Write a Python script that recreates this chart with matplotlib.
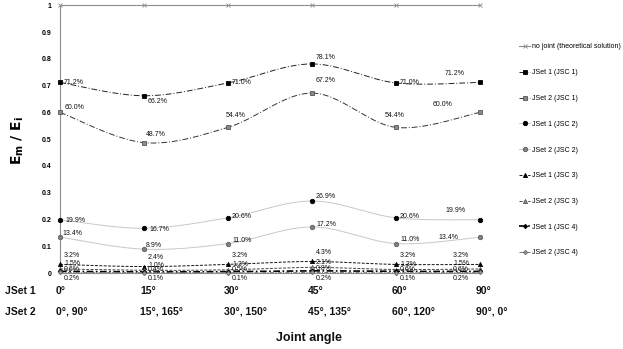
import numpy as np
import matplotlib
matplotlib.use("Agg")
import matplotlib.pyplot as plt
from matplotlib.lines import Line2D

# ---- data ----
jset1_angles = ["0°", "15°", "30°", "45°", "60°", "90°"]
jset2_angles = ["0°, 90°", "15°, 165°", "30°, 150°", "45°, 135°", "60°, 120°", "90°, 0°"]

no_joint = [1.0, 1.0, 1.0, 1.0, 1.0, 1.0]
jset1_jsc1 = [0.712, 0.662, 0.710, 0.781, 0.710, 0.712]
jset2_jsc1 = [0.600, 0.487, 0.544, 0.672, 0.544, 0.600]
jset1_jsc2 = [0.199, 0.167, 0.206, 0.269, 0.206, 0.199]
jset2_jsc2 = [0.134, 0.089, 0.110, 0.172, 0.110, 0.134]
jset1_jsc3 = [0.032, 0.024, 0.032, 0.043, 0.032, 0.032]
jset2_jsc3 = [0.015, 0.010, 0.012, 0.021, 0.013, 0.015]
jset1_jsc4 = [0.006, 0.004, 0.005, 0.008, 0.006, 0.006]
jset2_jsc4 = [0.002, 0.001, 0.001, 0.002, 0.001, 0.002]

legend_labels = ["no joint (theoretical solution)", "JSet 1 (JSC 1)", "JSet 2 (JSC 1)",
                 "JSet 1 (JSC 2)", "JSet 2 (JSC 2)", "JSet 1 (JSC 3)", "JSet 2 (JSC 3)",
                 "JSet 1 (JSC 4)", "JSet 2 (JSC 4)"]


def smooth(y, n=30):
    """Bezier smoothing through the points (spreadsheet-style smoothed line)."""
    y = np.asarray(y, float)
    x = np.arange(len(y), dtype=float)
    pts = np.column_stack([x, y])
    ext = np.vstack([pts[0], pts, pts[-1]])
    out = []
    t = np.linspace(0, 1, n)[:, None]
    for i in range(len(pts) - 1):
        p0, p1 = ext[i + 1], ext[i + 2]
        c1 = p0 + (ext[i + 2] - ext[i]) / 6.0
        c2 = p1 - (ext[i + 3] - ext[i + 1]) / 6.0
        seg = ((1 - t) ** 3) * p0 + 3 * ((1 - t) ** 2) * t * c1 + 3 * (1 - t) * t ** 2 * c2 + t ** 3 * p1
        out.append(seg if i == 0 else seg[1:])
    s = np.vstack(out)
    return s[:, 0], s[:, 1]


fig = plt.figure(figsize=(6.23, 3.49), dpi=100)
W, H = 623, 349
ax = fig.add_axes([60 / W, 1 - 273 / H, 420 / W, (273 - 5.3) / H])
ax.set_xlim(0, 5)
ax.set_ylim(0, 1)
xs = np.arange(len(jset1_angles))

lab_font = dict(family="Liberation Sans", size=5, color="#111111")

series = [
    # values, line color, linestyle, lw, marker, mfc, mec, ms, smooth
    (no_joint, "#8c8c8c", "-", 0.8, "x", "#8c8c8c", "#8c8c8c", 3, False),
    (jset1_jsc1, "#222222", (0, (6, 2, 1, 2)), 0.7, "s", "black", "black", 3.2, True),
    (jset2_jsc1, "#333333", (0, (6, 2, 1, 2)), 0.7, "s", "#8a8a8a", "#555555", 3.2, True),
    (jset1_jsc2, "#c8c8c8", "-", 0.7, "o", "black", "black", 3.2, True),
    (jset2_jsc2, "#c8c8c8", "-", 0.7, "o", "#808080", "#606060", 3.2, True),
    (jset1_jsc3, "#111111", (0, (3, 1.5)), 0.7, "^", "black", "black", 3.0, True),
    (jset2_jsc3, "#444444", (0, (3, 1.5)), 0.7, "^", "#9a9a9a", "#555555", 3.0, True),
    (jset1_jsc4, "#000000", (0, (4, 1.5, 1, 1.5)), 1.2, "D", "black", "black", 2.2, True),
    (jset2_jsc4, "#777777", (0, (4, 1.5, 1, 1.5)), 0.7, "D", "#9a9a9a", "#666666", 2.2, True),
]

handles = []
for vals, col, ls, lw, mk, mfc, mec, ms, sm in series:
    if sm:
        sx, sy = smooth(vals)
    else:
        sx, sy = xs, np.asarray(vals)
    ax.plot(sx, sy, color=col, ls=ls, lw=lw, clip_on=False, zorder=2)
    ax.plot(xs, vals, ls="none", marker=mk, mfc=mfc, mec=mec, ms=ms, mew=0.6,
            clip_on=False, zorder=3)
    handles.append(Line2D([0], [0], color=col, ls=ls, lw=lw,
                          marker=mk, mfc=mfc, mec=mec, ms=ms, mew=0.6))

# value labels: offsets in pixels from each marker
label_offsets = {
    1: [(4, 0), (4, -6), (4, 0), (4, 6), (4, 0), (-35, 9)],
    2: [(5, 5), (2, 8), (-2, 12), (4, 13), (-11, 12), (-47, 8)],
    3: [(5, -1), (5, -1), (4, 1), (4, 4), (4, 1), (-35, 9)],
    4: [(2, 4), (2, 4), (4, 3), (4, 2), (4, 4), (-42, 0)],
    5: [(4, 9)] * 5 + [(-27, 9)],
    6: [(4, 5)] * 5 + [(-27, 5)],
    7: [(4, 2)] * 5 + [(-27, 2)],
    8: [(4, -6)] * 5 + [(-27, -6)],
}
for idx, offs in label_offsets.items():
    vals = series[idx][0]
    for i, v in enumerate(vals):
        ax.annotate(f"{v * 100:.1f}%", (xs[i], v), xytext=offs[i],
                    textcoords="offset pixels", ha="left", va="center",
                    zorder=4, **lab_font)

# axes styling
for s in ["top", "right"]:
    ax.spines[s].set_visible(False)
ax.spines["left"].set_color("#8c8c8c")
ax.spines["bottom"].set_color("#8c8c8c")
ax.spines["left"].set_linewidth(0.8)
ax.spines["bottom"].set_linewidth(0.8)
ax.set_xticks([])
ax.set_yticks(np.round(np.arange(0, 1.01, 0.1), 1))
ax.set_yticklabels(["0"] + [f"{v:.1f}" for v in np.arange(0.1, 0.95, 0.1)] + ["1"],
                   fontsize=5, fontweight="bold", family="Liberation Sans")
ax.tick_params(axis="y", length=0, pad=6)

# y label
fig.text(18 / W, 1 - 140 / H, r"$\mathbf{E_m}$ / $\mathbf{E_i}$", rotation=90,
         ha="center", va="center", fontsize=10, fontweight="bold")

# category rows below the axis
row_font = dict(family="Liberation Sans", size=7.5, weight="bold", color="#111111")
fig.text(5 / W, 1 - 291 / H, "JSet 1", ha="left", va="center", **row_font)
fig.text(5 / W, 1 - 312 / H, "JSet 2", ha="left", va="center", **row_font)
for i in range(len(xs)):
    xp = ax.transData.transform((xs[i], 0))[0] / W - 4 / W
    fig.text(xp, 1 - 291 / H, jset1_angles[i], ha="left", va="center", **row_font)
    fig.text(xp, 1 - 312 / H, jset2_angles[i], ha="left", va="center", **row_font)
fig.text(309 / W, 1 - 338 / H, "Joint angle", ha="center", va="center",
         family="Liberation Sans", size=9, weight="bold", color="#111111")

# legend
fig.legend(handles, legend_labels, loc="upper left",
           bbox_to_anchor=(519 / W, 1 - 43.5 / H), frameon=False,
           prop=dict(family="Liberation Sans", size=5), handlelength=1.6,
           handletextpad=0.3, labelspacing=2.7, borderpad=0, borderaxespad=0)

fig.savefig("out.png", dpi=100)
